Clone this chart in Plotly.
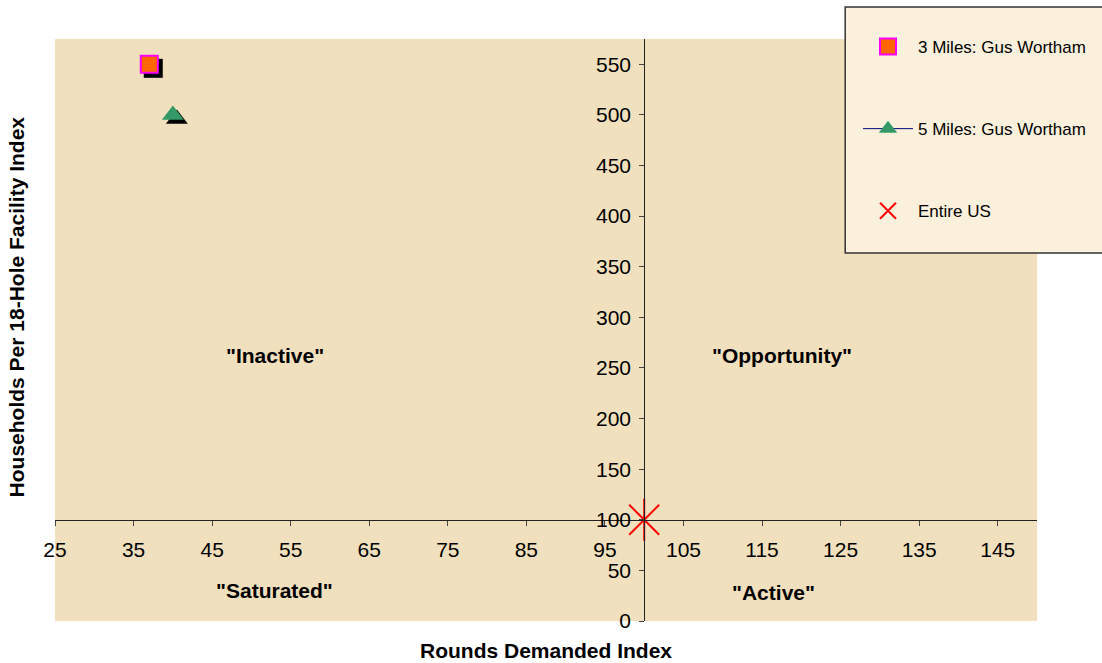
import plotly.graph_objects as go

# Market positioning: rounds demanded vs households per 18-hole facility
names = ["3 Miles: Gus Wortham", "5 Miles: Gus Wortham", "Entire US"]
rounds_index = [37, 40, 100]
households_index = [550, 500, 100]

x_ticks = [25, 35, 45, 55, 65, 75, 85, 95, 105, 115, 125, 135, 145]
y_ticks = [0, 50, 100, 150, 200, 250, 300, 350, 400, 450, 500, 550]

quadrant_labels = ['"Inactive"', '"Opportunity"', '"Saturated"', '"Active"']
quadrant_x = [53, 117.5, 53, 116.5]
quadrant_y = [262, 262, 30, 28]

X_RANGE = [25, 150]
Y_RANGE = [0, 575]
X_CROSS, Y_CROSS = 100, 100

W, H = 1102, 663
M = dict(l=55, r=64, t=39, b=42)
plot_w = W - M["l"] - M["r"]
plot_h = H - M["t"] - M["b"]

FONT = "Liberation Sans, Arial, sans-serif"
BG = "#F1E0BE"

# drop-shadow offset (pixels) converted to data units
sx = 4 * (X_RANGE[1] - X_RANGE[0]) / plot_w
sy = -4 * (Y_RANGE[1] - Y_RANGE[0]) / plot_h

fig = go.Figure()

# shadows
fig.add_trace(go.Scatter(x=[rounds_index[0] + sx], y=[households_index[0] + sy], mode="markers",
                         marker=dict(symbol="square", size=19, color="black", line=dict(width=0)),
                         showlegend=False, hoverinfo="skip"))
fig.add_trace(go.Scatter(x=[rounds_index[1] + sx], y=[households_index[1] + sy], mode="markers",
                         marker=dict(symbol="triangle-up", size=19, color="black", line=dict(width=0)),
                         showlegend=False, hoverinfo="skip"))

fig.add_trace(go.Scatter(x=[rounds_index[0]], y=[households_index[0]], mode="markers", name=names[0],
                         legendgroup="a",
                         marker=dict(symbol="square", size=17, color="#FF6600",
                                     line=dict(color="#FF00FF", width=2))))
fig.add_trace(go.Scatter(x=[rounds_index[1]], y=[households_index[1]], mode="lines+markers", name=names[1],
                         legendgroup="b", line=dict(color="#000080", width=1),
                         marker=dict(symbol="triangle-up", size=19, color="#339966", line=dict(width=0))))
fig.add_trace(go.Scatter(x=[rounds_index[2]], y=[households_index[2]], mode="markers", name=names[2],
                         legendgroup="c",
                         marker=dict(symbol="x-thin-open", size=30, color="#FF0000",
                                     line=dict(color="#FF0000", width=2))))
fig.add_trace(go.Scatter(x=[rounds_index[2]], y=[households_index[2]], mode="markers",
                         showlegend=False, hoverinfo="skip",
                         marker=dict(symbol="line-ns-open", size=30, color="#FF0000",
                                     line=dict(color="#FF0000", width=2))))

for t, qx, qy in zip(quadrant_labels, quadrant_x, quadrant_y):
    fig.add_annotation(x=qx, y=qy, text=t, showarrow=False,
                       font=dict(family=FONT, size=21, color="black", weight="bold"))

# axis titles
fig.add_annotation(xref="paper", yref="paper", x=0.5, y=-0.05, yanchor="middle",
                   text="Rounds Demanded Index", showarrow=False,
                   font=dict(family=FONT, size=21, color="black", weight="bold"))
fig.add_annotation(xref="paper", yref="paper", x=-0.039, y=0.54, xanchor="center",
                   text="Households Per 18-Hole Facility Index", showarrow=False, textangle=-90,
                   font=dict(family=FONT, size=21, color="black", weight="bold"))

# legend frame
fig.add_shape(type="rect", xref="paper", yref="paper", layer="above",
              x0=(846 - M["l"]) / plot_w, x1=(1120 - M["l"]) / plot_w,
              y0=(H - M["b"] - 253) / plot_h, y1=(H - M["b"] - 7) / plot_h,
              fillcolor="#FAF0DC", line=dict(color="#333333", width=1.5))

x_pos = (X_CROSS - X_RANGE[0]) / (X_RANGE[1] - X_RANGE[0])
y_pos = (Y_CROSS - Y_RANGE[0]) / (Y_RANGE[1] - Y_RANGE[0])

fig.update_layout(
    width=W, height=H, margin=M,
    paper_bgcolor="white", plot_bgcolor=BG,
    font=dict(family=FONT, size=21, color="black"),
    xaxis=dict(range=X_RANGE, tickvals=x_ticks, showgrid=False, zeroline=False,
               anchor="free", position=y_pos, showline=True, linecolor="#222222", linewidth=1,
               ticks="outside", ticklen=5, tickcolor="#444444", ticklabelstandoff=6,
               tickfont=dict(family=FONT, size=21, color="black")),
    yaxis=dict(range=Y_RANGE, tickvals=y_ticks, showgrid=False, zeroline=False,
               anchor="free", position=x_pos, showline=True, linecolor="#222222", linewidth=1,
               ticks="outside", ticklen=5, tickcolor="#444444", ticklabelstandoff=4,
               tickfont=dict(family=FONT, size=21, color="black")),
    legend=dict(x=(858 - M["l"]) / plot_w, xanchor="left",
                y=(H - M["b"] - 29) / plot_h, yanchor="top",
                bgcolor="rgba(0,0,0,0)", borderwidth=0, tracegroupgap=57, itemwidth=50,
                font=dict(family=FONT, size=17, color="black")),
    showlegend=True,
)

fig.write_html("out.html")
